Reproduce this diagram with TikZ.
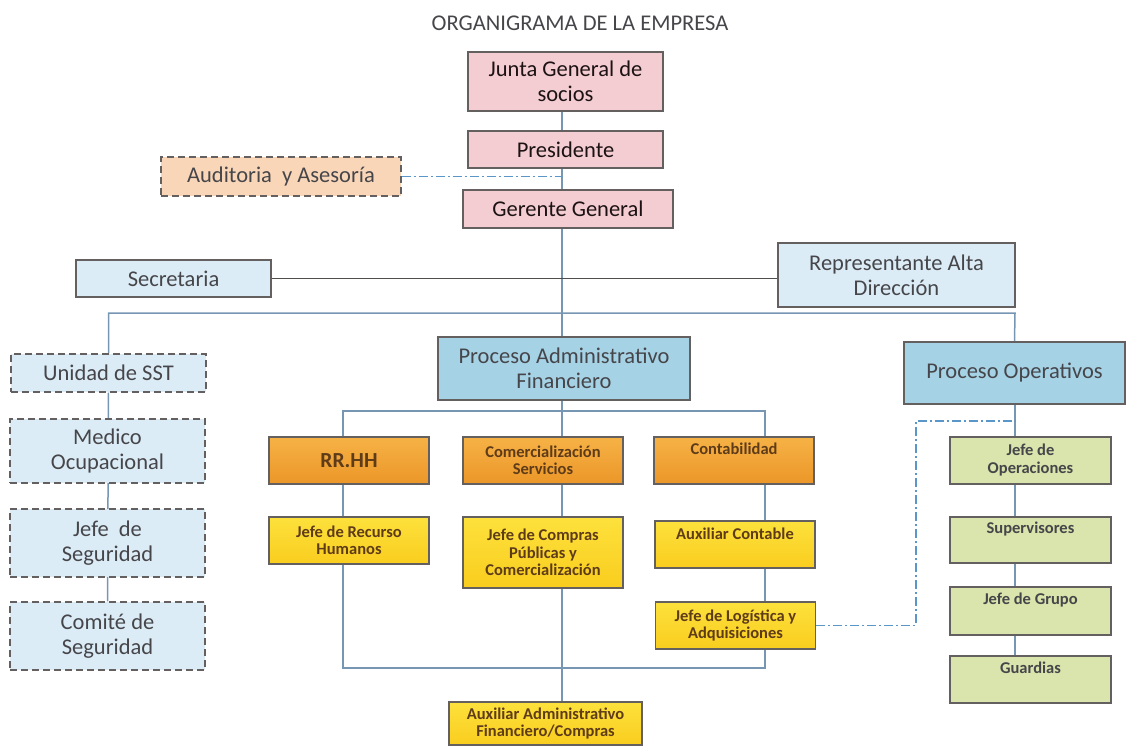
\documentclass[tikz,border=0pt]{standalone}
\usepackage{fontspec}
\setmainfont{Carlito}
\usetikzlibrary{backgrounds}
\definecolor{pinkfill}{RGB}{243,205,209}
\definecolor{peachfill}{RGB}{249,214,184}
\definecolor{paleblue}{RGB}{219,236,246}
\definecolor{procblue}{RGB}{166,210,230}
\definecolor{orangetop}{RGB}{246,178,70}
\definecolor{orangebot}{RGB}{236,150,40}
\definecolor{yellowtop}{RGB}{253,225,60}
\definecolor{yellowbot}{RGB}{249,205,30}
\definecolor{greenfill}{RGB}{217,229,172}
\definecolor{boxline}{RGB}{100,96,96}
\definecolor{linkblue}{RGB}{118,150,180}
\definecolor{dashblue}{RGB}{90,150,200}
\definecolor{txtgray}{RGB}{70,70,74}
\definecolor{txtbrown}{RGB}{95,60,25}
\tikzset{
    orgbox/.style={rectangle, draw=boxline, line width=1.2pt, inner sep=2pt,
                   align=center, text=txtgray, font=\fontsize{22.5}{25}\selectfont},
    headbox/.style={orgbox, fill=pinkfill, text=txtgray!85!red!30!black},
    dashbox/.style={dash pattern=on 7pt off 4pt},
    advbox/.style={orgbox, fill=peachfill, dashbox},
    staffbox/.style={orgbox, fill=paleblue},
    sstbox/.style={orgbox, fill=paleblue, dashbox, minimum width=195pt},
    procbox/.style={orgbox, fill=procblue},
    areabox/.style={orgbox, top color=orangetop, bottom color=orangebot,
                    text=txtbrown, minimum width=160pt, minimum height=47pt,
                    font=\bfseries\fontsize{16.5}{17.5}\selectfont},
    jefebox/.style={areabox, top color=yellowtop, bottom color=yellowbot},
    opbox/.style={orgbox, fill=greenfill, minimum width=161pt,
                  font=\bfseries\fontsize{16.5}{18}\selectfont},
    link/.style={draw=linkblue, line width=1.5pt},
    tie/.style={draw=boxline!80!black, line width=1.7pt},
    dotlink/.style={draw=dashblue, line width=1.2pt, dash pattern=on 9pt off 3pt on 2pt off 3pt},
}
\begin{document}
\begin{tikzpicture}[x=1pt, y=-1pt]
    \useasboundingbox (0,0) rectangle (1129,746);
    \node[text=txtgray, font=\fontsize{22.5}{25}\selectfont] (title) at (580,23) {ORGANIGRAMA DE LA EMPRESA};
    % direccion
    \node[headbox, minimum width=195pt, minimum height=59pt] (junta) at (565.5,81.5) {Junta General de\\socios};
    \node[headbox, minimum width=195pt, minimum height=37pt] (pres) at (565.5,149.5) {Presidente};
    \node[headbox, minimum width=210pt, minimum height=38pt] (geren) at (568,209) {Gerente General};
    \node[advbox, minimum width=240pt, minimum height=39pt] (audit) at (281,176.5) {Auditoria\ \ y Asesoría};
    \node[staffbox, minimum width=195pt, minimum height=37pt] (secre) at (173.5,278.5) {Secretaria};
    \node[staffbox, minimum width=237pt, minimum height=64pt] (repre) at (896.5,275) {Representante Alta\\Dirección};
    % unidad de SST
    \node[sstbox, minimum height=38pt] (sst) at (108.5,373) {Unidad de SST};
    \node[sstbox, minimum height=64pt] (medico) at (107.5,451) {Medico\\Ocupacional};
    \node[sstbox, minimum height=68pt] (jseg) at (107.5,543) {Jefe\ \ de\\Seguridad};
    \node[sstbox, minimum height=68pt] (comite) at (107.5,636) {Comité de\\Seguridad};
    % procesos
    \node[procbox, minimum width=252pt, minimum height=63pt] (padm) at (564,368.5) {Proceso Administrativo\\Financiero};
    \node[procbox, minimum width=221pt, minimum height=62pt] (pope) at (1014.5,373) {Proceso Operativos};
    \node[areabox, font=\bfseries\fontsize{21.5}{24}\selectfont] (rrhh) at (349,460.5) {RR.HH};
    \node[areabox] (comer) at (543,460.5) {Comercialización\\Servicios};
    \node[areabox] (conta) at (734,460.5) {Contabilidad\\[6pt]};
    \node[jefebox] (jrec) at (349,540.5) {Jefe de Recurso\\Humanos};
    \node[jefebox, minimum height=71pt] (jcom) at (543,552.5) {Jefe de Compras\\Públicas y\\Comercialización};
    \node[jefebox] (auxc) at (735,544.5) {Auxiliar Contable\\[4pt]};
    \node[jefebox] (jlog) at (735.5,625.5) {Jefe de Logística y\\Adquisiciones};
    \node[jefebox, minimum width=193pt, minimum height=43pt] (auxadm) at (545.5,723.5) {Auxiliar Administrativo\\Financiero/Compras};
    % operaciones
    \node[opbox, minimum height=47pt] (jop) at (1030.5,460.5) {Jefe de\\Operaciones};
    \node[opbox, minimum height=46pt] (superv) at (1030.5,540) {Supervisores\\[6pt]};
    \node[opbox, minimum height=48pt] (jgru) at (1030.5,611) {Jefe de Grupo\\[6pt]};
    \node[opbox, minimum height=47pt] (guard) at (1030.5,679.5) {Guardias\\[6pt]};
    \coordinate (spine) at (562,0);
    \coordinate (opspine) at (1015,0);
    \coordinate (frameTL) at (343,411);
    \coordinate (frameBR) at (765,668);
    \coordinate (bus) at (1015,313);
    \coordinate (logturn) at (916,421);
    \begin{scope}[on background layer]
        \draw[link] (junta.south -| spine) -- (padm.north -| spine);
        \draw[link] (padm.south -| spine) -- (auxadm.north -| spine);
        \draw[link] (frameTL) rectangle (frameBR);
        \draw[link] (sst.north) |- (bus) -- (pope.north);
        \draw[link] (sst.south) -- (comite.north);
        \draw[link] (pope.south -| opspine) -- (guard.north -| opspine);
        \draw[tie] (secre.east) -- (secre.east -| repre.west);
        \draw[dotlink] (audit.east) -- (audit.east -| spine);
        \draw[dotlink] (jlog.east) -| (logturn) -- (logturn -| opspine);
    \end{scope}
\end{tikzpicture}
\end{document}
